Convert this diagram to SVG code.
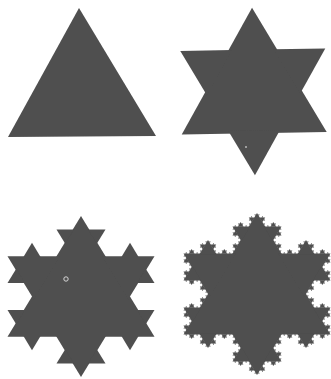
<svg xmlns="http://www.w3.org/2000/svg" width="331" height="379" viewBox="0 0 331 379">
<style>
.shape{fill:#4f4f4f;filter:url(#soft)}
.speck{fill:none;stroke:#d6d6d6;stroke-width:1}
</style>
<defs>
<filter id="soft" x="-0.1" y="-0.1" width="1.2" height="1.2"><feGaussianBlur stdDeviation="0.45"/></filter>
<polygon id="b1" points="0.321786,0.02 0.5,-0.288675 0.678214,0.02"/>
<g id="b2"><use href="#b1"/><use href="#b1" transform="scale(0.333333)"/><use href="#b1" transform="translate(0.333333,0) rotate(-60) scale(0.333333)"/><use href="#b1" transform="translate(0.5,-0.288675) rotate(60) scale(0.333333)"/><use href="#b1" transform="translate(0.666667,0) scale(0.333333)"/></g>
<g id="b3"><use href="#b1"/><use href="#b2" transform="scale(0.333333)"/><use href="#b2" transform="translate(0.333333,0) rotate(-60) scale(0.333333)"/><use href="#b2" transform="translate(0.5,-0.288675) rotate(60) scale(0.333333)"/><use href="#b2" transform="translate(0.666667,0) scale(0.333333)"/></g>
<g id="b4"><use href="#b1"/><use href="#b3" transform="scale(0.333333)"/><use href="#b3" transform="translate(0.333333,0) rotate(-60) scale(0.333333)"/><use href="#b3" transform="translate(0.5,-0.288675) rotate(60) scale(0.333333)"/><use href="#b3" transform="translate(0.666667,0) scale(0.333333)"/></g>
<polygon id="tri" points="0,-0.57735 0.5,0.288675 -0.5,0.288675"/>
</defs>
<rect width="331" height="379" fill="#ffffff"/>
<g id="stage0" class="shape">
<polygon points="79,8 156,136 8,137"/>
</g>
<g id="stage1" class="shape">
<g transform="translate(253.5,91.5) rotate(-1) scale(145)">
<use href="#tri"/>
<use href="#b1" transform="translate(0,-0.57735) rotate(60)"/>
<use href="#b1" transform="translate(0.5,0.288675) rotate(180)"/>
<use href="#b1" transform="translate(-0.5,0.288675) rotate(-60)"/>
</g>
</g>
<circle cx="246" cy="147" r="1" fill="#b8b8b8"/>
<g id="stage2" class="shape">
<g transform="translate(81,296.5) scale(147,139.4)">
<use href="#tri"/>
<use href="#b2" transform="translate(0,-0.57735) rotate(60)"/>
<use href="#b2" transform="translate(0.5,0.288675) rotate(180)"/>
<use href="#b2" transform="translate(-0.5,0.288675) rotate(-60)"/>
</g>
</g>
<circle class="speck" cx="66" cy="279" r="2.2"/>
<g id="stage3" class="shape">
<g transform="translate(257,294) scale(147,140.3)">
<use href="#tri"/>
<use href="#b4" transform="translate(0,-0.57735) rotate(60)"/>
<use href="#b4" transform="translate(0.5,0.288675) rotate(180)"/>
<use href="#b4" transform="translate(-0.5,0.288675) rotate(-60)"/>
</g>
</g>
</svg>
